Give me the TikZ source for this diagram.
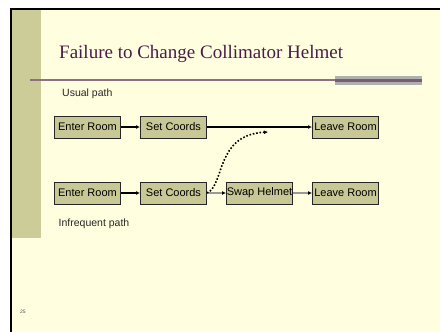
\documentclass[tikz,border=0pt]{standalone}
\usepackage{fontspec}
\setmainfont{Liberation Sans}
\newfontfamily\titlefont{Liberation Serif}
\usetikzlibrary{arrows.meta}
\definecolor{slidebg}{HTML}{FFFFE0}
\definecolor{olive}{HTML}{CCCC99}
\definecolor{boxfill}{HTML}{C8C896}
\definecolor{titlecol}{HTML}{4A1C48}
\definecolor{rulecol}{HTML}{8C7082}
\definecolor{rulebar}{HTML}{B0B0B0}
\tikzset{
  stepbox/.style={draw=black!85,fill=boxfill,line width=1pt,minimum width=66pt,
    minimum height=22pt,inner sep=0pt,font=\fontsize{11}{12}\selectfont},
  usual/.style={line width=1.4pt,-{Latex[length=4pt,width=4pt]}},
  rare/.style={draw=black!40,line width=1.1pt,-{Latex[length=4pt,width=4pt,color=black]}},
  label/.style={anchor=west,inner sep=0pt,text=black!85,font=\fontsize{10.5}{12}\selectfont}
}
\begin{document}
\begin{tikzpicture}[x=1pt,y=-1pt]
\useasboundingbox (0,0) rectangle (440,332);
\fill[white] (0,0) rectangle (440,332);
\fill[slidebg] (12,10) rectangle (440,332);
\fill[olive] (12,10) rectangle (41,238);
\fill[black] (10,8) rectangle (440,10);
\fill[black] (10,8) rectangle (12,332);
\fill[rulebar] (335,76) rectangle (422,85);
\draw[rulecol,line width=2pt] (30,80) -- (422,80);
\draw[rulecol!85!black,line width=3pt] (335,80.5) -- (422,80.5);

\node[anchor=base west,inner sep=0pt,text=titlecol,font=\titlefont\fontsize{19}{22}\selectfont]
  (title) at (59,59) {Failure to Change Collimator Helmet};

\node[label] (usual) at (62,94) {Usual path};
\node[stepbox] (enterA) at (87.5,127) {Enter Room};
\node[stepbox] (setA) at (173.5,127) {Set Coords};
\node[stepbox] (leaveA) at (345.5,127) {Leave Room};
\draw[usual] (enterA) -- (setA);
\draw[usual] (setA) -- (leaveA);

\node[stepbox] (enterB) at (87.5,193) {Enter Room};
\node[stepbox] (setB) at (173.5,193) {Set Coords};
\node[stepbox] (swapB) at (259.5,193) {Swap Helmet};
\node[stepbox] (leaveB) at (345.5,193) {Leave Room};
\node[label] (rare) at (58.5,224) {Infrequent path};
\draw[usual] (enterB) -- (setB);
\draw[rare] (setB) -- (swapB);
\draw[rare] (swapB) -- (leaveB);

\coordinate (jump) at (268,132);
\draw[line width=1.6pt,dash pattern=on 1.6pt off 1.8pt,-{Latex[length=4pt,width=4pt]}]
  (setB.east) .. controls (225,185) and (215,135) .. (jump);

\node[anchor=west,inner sep=0pt,text=black!70,font=\fontsize{5}{6}\selectfont] (page) at (20,312) {25};
\end{tikzpicture}
\end{document}
